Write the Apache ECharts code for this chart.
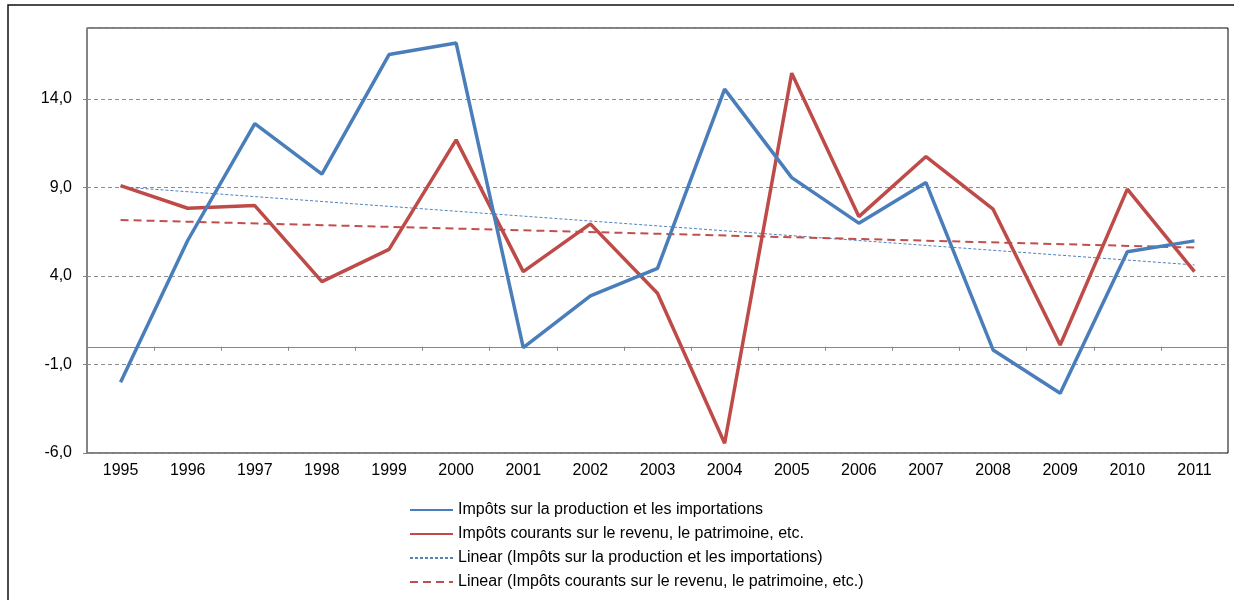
<!DOCTYPE html>
<html>
<head>
<meta charset="utf-8">
<script src="https://cdn.jsdelivr.net/npm/echarts@6/dist/echarts.min.js"></script>
<style>
  html, body { margin: 0; padding: 0; background: #fff; }
  #chart { width: 1234px; height: 600px; }
</style>
</head>
<body>
<div id="chart"></div>
<script>
// données
var years = ["1995","1996","1997","1998","1999","2000","2001","2002","2003","2004","2005","2006","2007","2008","2009","2010","2011"];
var production = [-2.0, 6.0, 12.6, 9.75, 16.5, 17.15, -0.05, 2.87, 4.43, 14.55, 9.55, 6.98, 9.27, -0.18, -2.63, 5.37, 5.98];
var revenu = [9.1, 7.82, 7.97, 3.68, 5.5, 11.68, 4.24, 6.94, 3.02, -5.45, 15.45, 7.35, 10.74, 7.77, 0.1, 8.9, 4.24];
// tendances linéaires : extrémités lues (1995 / 2011)
var trendProduction = [9.03, 4.62];
var trendRevenu = [7.16, 5.6];
var yTicks = [-6, -1, 4, 9, 14];

var names = [
  "Impôts sur la production et les importations",
  "Impôts courants sur le revenu, le patrimoine, etc.",
  "Linear (Impôts sur la production et les importations)",
  "Linear (Impôts courants sur le revenu, le patrimoine, etc.)"
];

var chart = echarts.init(document.getElementById("chart"));
var font = "Liberation Sans, Arial, sans-serif";

var option = {
  animation: false,
  textStyle: { fontFamily: font },
  grid: {
    left: 87,
    right: 6,
    top: 28,
    bottom: 147,
    show: true,
    borderColor: "#000",
    borderWidth: 1
  },
  graphic: [{
    type: "rect",
    z: -1,
    shape: { x: 8, y: 5, width: 1400, height: 800 },
    style: { fill: null, stroke: "#111", lineWidth: 1.5 }
  }],
  legend: {
    orient: "vertical",
    left: 409,
    top: 502,
    padding: 0,
    itemWidth: 43,
    itemHeight: 14,
    itemGap: 8,
    selectedMode: false,
    itemStyle: { opacity: 0, borderWidth: 0 },
    textStyle: { fontSize: 16, color: "#000", fontFamily: font },
    data: names
  },
  xAxis: [{
    type: "category",
    data: years,
    position: "bottom",
    axisLine: { show: false, onZero: false },
    axisTick: { show: false },
    axisLabel: { fontSize: 16, color: "#000", margin: 10 }
  }, {
    type: "category",
    data: years,
    position: "top",
    axisLine: { show: true, onZero: true, lineStyle: { color: "#868686", width: 1 } },
    axisTick: { show: true, inside: true, length: 4, lineStyle: { color: "#868686" } },
    axisLabel: { show: false }
  }],
  yAxis: {
    type: "value",
    min: -6,
    max: 18,
    interval: 5,
    axisLine: { show: true, lineStyle: { color: "#868686", width: 1.5 } },
    axisTick: { show: true, length: 4, lineStyle: { color: "#868686" } },
    axisLabel: {
      fontSize: 16,
      color: "#000",
      margin: 15,
      showMaxLabel: false,
      formatter: function (v) {
        if (yTicks.indexOf(v) < 0) return "";
        return v.toFixed(1).replace(".", ",");
      }
    },
    splitLine: { show: true, lineStyle: { color: "#8c8c8c", type: [4, 3], width: 1 } }
  },
  series: [{
    name: names[0],
    type: "line",
    data: production,
    symbol: "none",
    lineStyle: { color: "#4a7ebb", width: 3.5 },
    itemStyle: { color: "#4a7ebb" },
    z: 4
  }, {
    name: names[1],
    type: "line",
    data: revenu,
    symbol: "none",
    lineStyle: { color: "#be4b48", width: 3.5 },
    itemStyle: { color: "#be4b48" },
    z: 3
  }, {
    name: names[2],
    type: "line",
    data: [[years[0], trendProduction[0]], [years[years.length - 1], trendProduction[1]]],
    symbol: "none",
    lineStyle: { color: "#4f81bd", width: 1, type: [3, 2] },
    itemStyle: { color: "#4f81bd" },
    z: 2
  }, {
    name: names[3],
    type: "line",
    data: [[years[0], trendRevenu[0]], [years[years.length - 1], trendRevenu[1]]],
    symbol: "none",
    lineStyle: { color: "#c0504d", width: 2, type: [8, 5] },
    itemStyle: { color: "#c0504d" },
    z: 2
  }]
};

chart.setOption(option);
</script>
</body>
</html>
